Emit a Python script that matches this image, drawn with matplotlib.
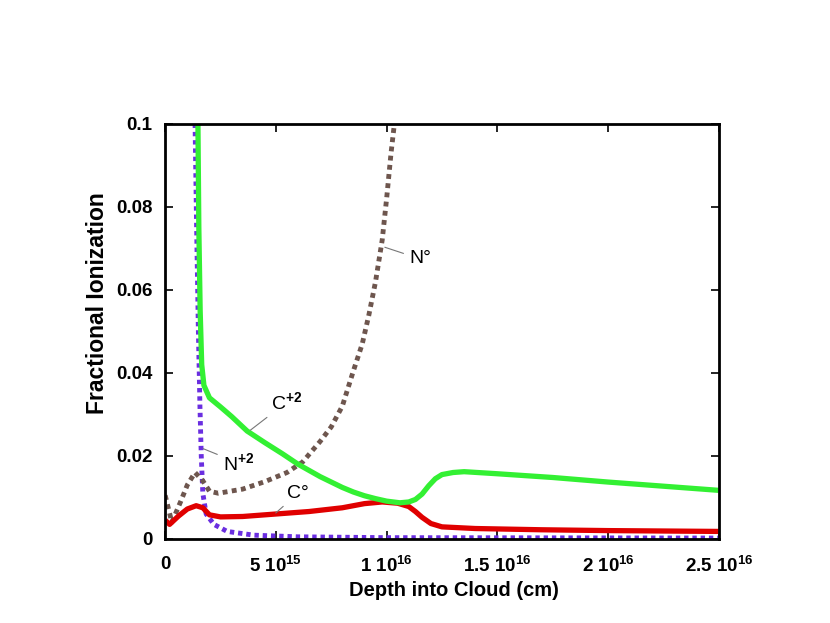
import matplotlib
matplotlib.use("Agg")
import matplotlib.pyplot as plt

plt.rcParams['font.family'] = ['Liberation Sans', 'DejaVu Sans']
plt.rcParams['mathtext.fontset'] = 'custom'
plt.rcParams['mathtext.rm'] = 'Liberation Sans:bold'
plt.rcParams['mathtext.it'] = 'Liberation Sans:bold'
plt.rcParams['mathtext.bf'] = 'Liberation Sans:bold'

#? depth in units of 1e15 cm
c2_x = [1.48, 1.52, 1.58, 1.65, 1.75, 2.0, 2.5, 3.0, 3.7, 4.5, 5.3, 6.0, 6.5, 7.0,
        7.5, 8.0, 8.5, 9.0, 9.5, 10.0, 10.6, 11.0, 11.3, 11.6, 11.9, 12.2, 12.5,
        13.0, 13.5, 15.0, 17.5, 20.0, 22.5, 25.0]
c2_y = [0.100, 0.075, 0.055, 0.042, 0.037, 0.034, 0.0318, 0.0295, 0.0260, 0.0232,
        0.0205, 0.0180, 0.0165, 0.0150, 0.0137, 0.0124, 0.0113, 0.0104, 0.0097, 0.0091,
        0.0087, 0.0089, 0.0095, 0.0108, 0.0128, 0.0145, 0.0155, 0.0160, 0.0162, 0.0157,
        0.0148, 0.0137, 0.0127, 0.0117]

c0_x = [0.0, 0.2, 0.6, 1.0, 1.4, 1.7, 2.0, 2.5, 3.5, 5.0, 6.5, 8.0, 9.0, 9.8,
        10.5, 11.0, 11.3, 11.6, 12.0, 12.5, 14.0, 17.0, 20.0, 25.0]
c0_y = [0.0045, 0.0035, 0.0055, 0.0072, 0.0080, 0.0075, 0.0058, 0.0053, 0.0054, 0.0060,
        0.0066, 0.0075, 0.0085, 0.0089, 0.0086, 0.0078, 0.0066, 0.0052, 0.0037, 0.0029,
        0.0025, 0.0022, 0.0020, 0.0018]

n0_x = [0.0, 0.3, 0.7, 1.0, 1.35, 1.7, 2.0, 2.4, 3.5, 4.5, 5.5, 6.2, 7.0, 7.5, 8.0,
        8.5, 8.9, 9.2, 9.5, 9.8, 10.0, 10.2, 10.35, 10.5]
n0_y = [0.0105, 0.0040, 0.0090, 0.0130, 0.0160, 0.0140, 0.0115, 0.0110, 0.0120, 0.0138,
        0.0160, 0.0185, 0.0235, 0.0270, 0.0320, 0.0405, 0.0470, 0.0540, 0.0620, 0.0720,
        0.0820, 0.0930, 0.1000, 0.1080]

n2_x = [1.30, 1.35, 1.42, 1.50, 1.57, 1.63, 1.70, 1.85, 2.2, 2.8, 4.0, 6.0, 10.0, 25.0]
n2_y = [0.120, 0.100, 0.075, 0.050, 0.032, 0.020, 0.011, 0.0060, 0.0035, 0.0018,
        0.0009, 0.0005, 0.0003, 0.0002]

x_ticks = [0, 5, 10, 15, 20, 25]
x_tick_labels = ["0", "5 10$^{15}$", "1 10$^{16}$", "1.5 10$^{16}$", "2 10$^{16}$", "2.5 10$^{16}$"]
y_ticks = [0, 0.02, 0.04, 0.06, 0.08, 0.1]
y_tick_labels = ["0", "0.02", "0.04", "0.06", "0.08", "0.1"]

fig = plt.figure(figsize=(8.3, 6.23), dpi=100)
ax = fig.add_axes([0.199, 0.135, 0.667, 0.666])

ax.plot(n2_x, n2_y, color="#6a2ee0", lw=3.5, linestyle=(0, (0.9, 0.8)))
ax.plot(n0_x, n0_y, color="#6e564e", lw=3.5, linestyle=(0, (1, 0.9)))
ax.plot(c0_x, c0_y, color="#e00000", lw=3.8, solid_capstyle="butt")
ax.plot(c2_x, c2_y, color="#33f033", lw=3.8, solid_capstyle="butt")

ax.set_xlim(0, 25)
ax.set_ylim(0, 0.1)
ax.set_xticks(x_ticks)
ax.set_xticklabels(x_tick_labels)
ax.set_yticks(y_ticks)
ax.set_yticklabels(y_tick_labels)
ax.tick_params(direction="in", length=6, width=1.2, top=True, right=True,
               labelsize=13.5)
ax.tick_params(axis="x", pad=12)
ax.tick_params(axis="y", pad=9)
for lab in ax.get_xticklabels() + ax.get_yticklabels():
    lab.set_fontweight("bold")
for sp in ax.spines.values():
    sp.set_linewidth(2)

fig.text(454 / 830, 1 - 591 / 623, "Depth into Cloud (cm)", fontsize=14.5,
         fontweight="bold", ha="center", va="center")
fig.text(97 / 830, 1 - 303 / 623, "Fractional Ionization", fontsize=16.5,
         fontweight="bold", ha="center", va="center", rotation=90)

#* labels with leader lines
lead = dict(arrowstyle="-", color="#777777", lw=0.8)
ax.annotate("N°", xy=(9.8, 0.0705), xytext=(11.5, 0.0675), fontsize=14,
            ha="center", va="center", arrowprops=lead)
ax.annotate("C$^{+2}$", xy=(3.75, 0.0258), xytext=(5.5, 0.0330), fontsize=14,
            ha="center", va="center", arrowprops=lead)
ax.annotate("N$^{+2}$", xy=(1.6, 0.0220), xytext=(3.3, 0.0183), fontsize=14,
            ha="center", va="center", arrowprops=lead)
ax.annotate("C°", xy=(4.9, 0.0058), xytext=(6.0, 0.0110), fontsize=14,
            ha="center", va="center", arrowprops=lead)

fig.savefig("out.png", dpi=100)
